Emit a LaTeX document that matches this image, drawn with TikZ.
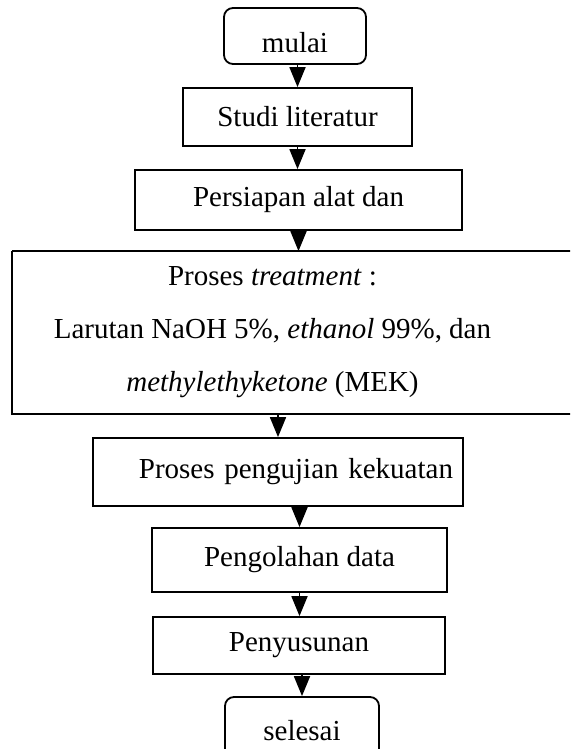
\documentclass[tikz,border=0pt]{standalone}
\usepackage{fontspec}
\setmainfont{Liberation Serif}
\usepackage{tikz}
\usetikzlibrary{arrows.meta}
\definecolor{fcedge}{RGB}{0,0,0}
\tikzset{
  flowbox/.style={
    draw=fcedge, line width=1.8pt, align=center, inner sep=0pt,
    font=\fontsize{29}{35}\selectfont
  },
  term/.style={flowbox, rounded corners=9pt},
  procbox/.style={flowbox},
  frame/.style={draw=fcedge, line width=1.8pt},
  arr/.style={-{Triangle[length=20pt,width=16pt]}, draw=fcedge, line width=1.8pt}
}

\begin{document}
\begin{tikzpicture}[x=1pt,y=-1pt]
  \clip (0,0) rectangle (570,749);
  \node[term, minimum width=142pt, minimum height=56pt] (mulai) at (295,36)
    {\raisebox{-7pt}[\height][\depth]{mulai}};
  \node[procbox, minimum width=229pt, minimum height=58pt] (studi) at (297.5,117) {Studi literatur};
  \node[procbox, minimum width=327pt, minimum height=60pt] (persiapan) at (298.5,200) {Persiapan alat dan};
  % wide box runs off the right side of the page
  \node[flowbox, draw=none, minimum width=519pt, minimum height=161pt,
        font=\fontsize{29}{53}\selectfont] (treat) at (272.5,332.5)
    {Proses \emph{treatment} :\\
     Larutan NaOH 5\%, \emph{ethanol} 99\%, dan\\
     \emph{methylethyketone} (MEK)};
  \draw[frame] (treat.north west) -- ++(600,0)
               (treat.north west) -- (treat.south west) -- ++(600,0);
  \node[procbox, minimum width=370pt, minimum height=68pt, text width=350pt,
        inner xsep=10pt, align=right] (uji) at (278,472) {Proses pengujian kekuatan};
  \node[procbox, minimum width=295pt, minimum height=64pt] (olah) at (299.5,560) {Pengolahan data};
  \node[procbox, minimum width=292pt, minimum height=57pt] (susun) at (299,645.5) {Penyusunan};
  \node[term, minimum width=154pt, minimum height=68pt] (selesai) at (302,731) {selesai};

  \draw[arr] (studi.north |- mulai.south) -- (studi.north);
  \draw[arr] (studi.south) -- (studi.south |- persiapan.north);
  \draw[arr] (persiapan.south) -- (persiapan.south |- treat.north);
  \draw[arr] (uji.north |- treat.south) -- (uji.north);
  \draw[arr] (olah.north |- uji.south) -- (olah.north);
  \draw[arr] (olah.south) -- (olah.south |- susun.north);
  \draw[arr] (selesai.north |- susun.south) -- (selesai.north);
\end{tikzpicture}
\end{document}
